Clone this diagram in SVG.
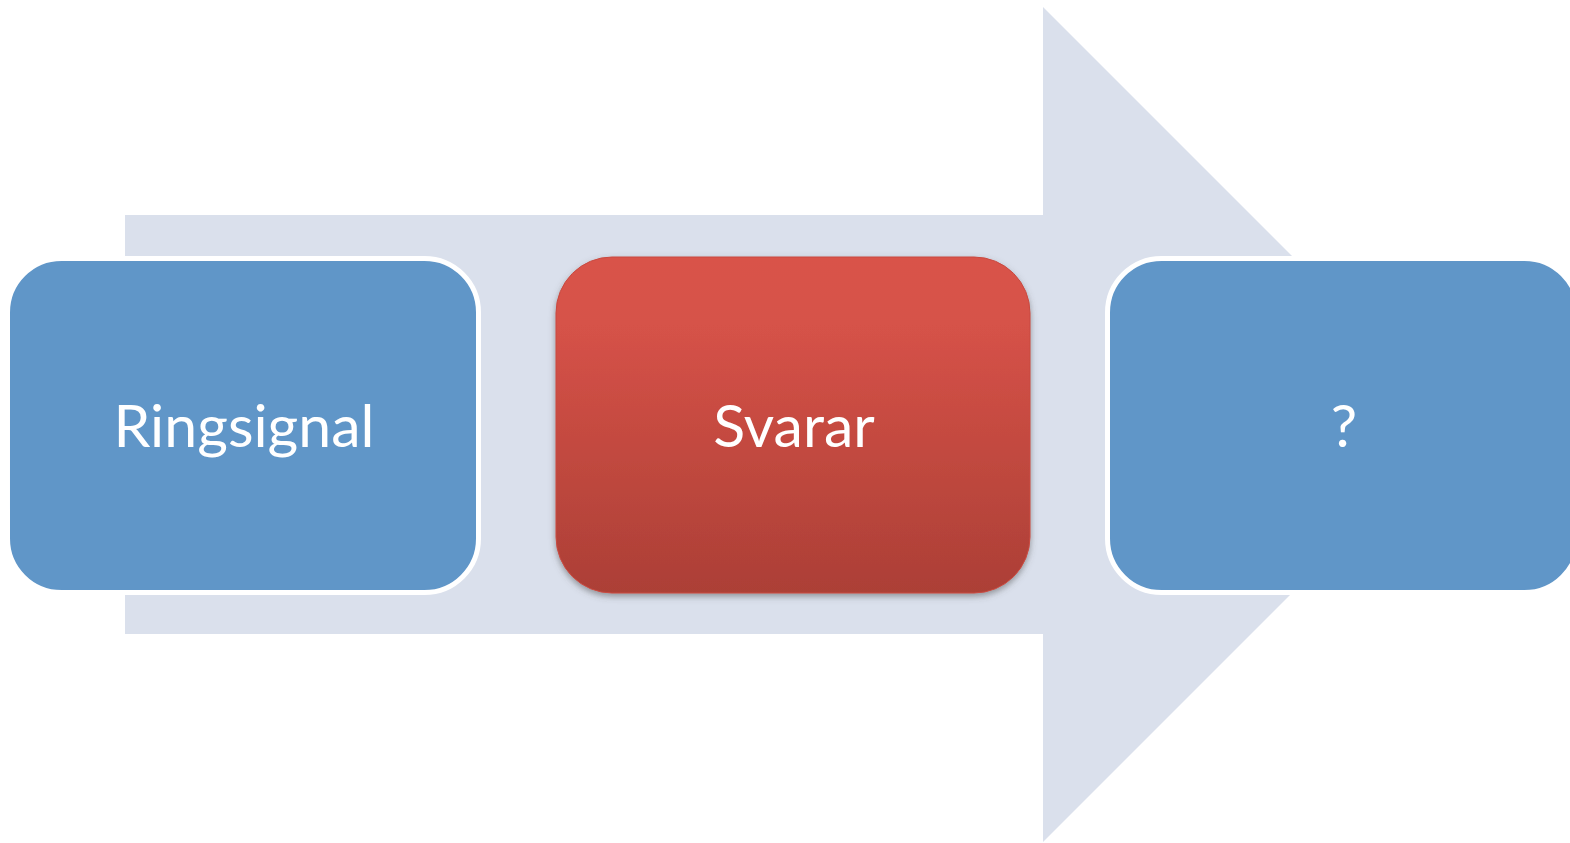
<svg xmlns="http://www.w3.org/2000/svg" width="1570" height="843" viewBox="0 0 1570 843">
<defs>
<linearGradient id="red" x1="0" y1="0" x2="0" y2="1">
<stop offset="0" stop-color="#D95349"/>
<stop offset="0.2" stop-color="#D65248"/>
<stop offset="1" stop-color="#AC3F36"/>
</linearGradient>
<filter id="sh" x="-10%" y="-10%" width="120%" height="125%">
<feGaussianBlur in="SourceAlpha" stdDeviation="3"/>
<feOffset dx="0" dy="3" result="b"/>
<feFlood flood-color="#555" flood-opacity="0.55"/>
<feComposite in2="b" operator="in"/>
<feMerge><feMergeNode/><feMergeNode in="SourceGraphic"/></feMerge>
</filter>
</defs>
<style>
.blue{fill:#6096C8;stroke:#FFFFFF;stroke-width:5}
.lbl{font-family:Lato,"Open Sans",sans-serif;font-size:59px;fill:#FFFFFF;text-anchor:middle}
</style>
<g id="arrow">
<polygon points="125,215 1043,215 1043,7 1460.5,424.5 1043,842 1043,634 125,634" fill="#DAE0EC"/>
</g>
<g id="node-ringsignal">
<rect class="blue" x="7.5" y="258.5" width="471" height="334" rx="54"/>
<text class="lbl" x="244" y="447">Ringsignal</text>
</g>
<g id="node-svarar">
<rect x="556" y="257" width="474" height="336" rx="56" fill="url(#red)" stroke="#C94A40" stroke-width="1" filter="url(#sh)"/>
<text class="lbl" x="794" y="447">Svarar</text>
</g>
<g id="node-question">
<rect class="blue" x="1107.5" y="258.5" width="471" height="334" rx="54"/>
<text class="lbl" x="1344" y="447">?</text>
</g>
<g id="connectors"></g>
</svg>
